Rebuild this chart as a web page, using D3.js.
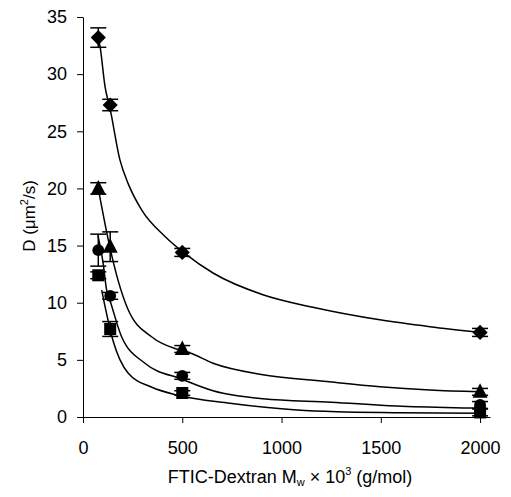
<!DOCTYPE html>
<html>
<head>
	<meta charset="utf-8">
	<title>D vs Dextran Mw</title>
	<script src="https://cdn.jsdelivr.net/npm/d3@7"></script>
	<style>
		body {
			margin: 0;
			background: #fff;
			font-family: Arial, "Liberation Sans", sans-serif;
		}
	</style>
</head>
<body>
	<div id="chart"></div>
	<script>

	// data
	const mw = [77, 137, 500, 2000];

	const diamondD   = [33.2, 27.3, 14.4, 7.4];
	const diamondErr = [0.85, 0.5, 0.35, 0.35];
	const triangleD   = [20.0, 14.9, 5.95, 2.2];
	const triangleErr = [0.5, 1.3, 0.3, 0.3];
	const circleD   = [14.6, 10.6, 3.6, 1.05];
	const circleErr = [1.4, 0.3, 0.3, 0.3];
	const squareD   = [12.4, 7.7, 2.1, 0.4];
	const squareErr = [0.3, 0.65, 0.2, 0.3];

	// fitted curves, points
	const diamondFit = [[77,33.2],[86,32.4],[111,28.9],[136,27.0],[186,22.5],[228,20.4],[296,18.1],[413,15.8],[514,14.3],[655,12.6],[906,10.7],[1158,9.6],[1495,8.5],[1747,7.9],[2000,7.4]];
	const triangleFit = [[77,20.0],[136,14.8],[176,12.0],[227,9.4],[347,7.0],[478,5.9],[539,5.6],[655,4.7],[906,3.7],[1229,3.1],[1495,2.65],[1747,2.36],[2000,2.2]];
	const circleFit = [[75,15.9],[101,13.5],[119,11.1],[136,10.2],[195,7.0],[312,4.7],[500,3.3],[655,2.3],[906,1.6],[1250,1.3],[1580,0.96],[1950,0.78],[2000,0.76]];
	const squareFit = [[94,11.1],[151,6.7],[227,3.85],[347,2.6],[478,1.9],[740,1.2],[1078,0.61],[1279,0.46],[1581,0.38],[2000,0.32]];

	const xTicks = [0, 500, 1000, 1500, 2000];
	const yTicks = [0, 5, 10, 15, 20, 25, 30, 35];

	const width  = 511;
	const height = 497;

	const series = [
		{ name: "diamond",  values: diamondD,  err: diamondErr,  fit: diamondFit },
		{ name: "triangle", values: triangleD, err: triangleErr, fit: triangleFit },
		{ name: "circle",   values: circleD,   err: circleErr,   fit: circleFit },
		{ name: "square",   values: squareD,   err: squareErr,   fit: squareFit },
	];

	const x = d3.scaleLinear().domain([0, 2050]).range([83, 490]);
	const y = d3.scaleLinear().domain([0, 35]).range([417, 17]);

	const svg = d3.select("#chart")
		.append("svg")
		.attr("width", width)
		.attr("height", height)
		.attr("font-family", "Arial, 'Liberation Sans', sans-serif");

	// axes
	svg.append("g")
		.attr("transform", "translate(0,417)")
		.call(d3.axisBottom(x).tickValues(xTicks).tickFormat(d3.format("d"))
			.tickSize(6).tickSizeOuter(0).tickPadding(18))
		.call(g => g.selectAll("text").attr("font-size", 18).attr("fill", "#000"))
		.call(g => g.selectAll("line,path").attr("stroke", "#000"));

	svg.append("g")
		.attr("transform", "translate(83,0)")
		.call(d3.axisLeft(y).tickValues(yTicks).tickSize(6).tickSizeOuter(0).tickPadding(10))
		.call(g => g.selectAll("text").attr("font-size", 18).attr("fill", "#000"))
		.call(g => g.selectAll("line,path").attr("stroke", "#000"));

	// fit lines
	const line = d3.line()
		.x(d => x(d[0]))
		.y(d => y(d[1]))
		.curve(d3.curveMonotoneX);

	svg.append("g")
		.selectAll("path")
		.data(series)
		.join("path")
		.attr("fill", "none")
		.attr("stroke", "#000")
		.attr("stroke-width", 1.5)
		.attr("d", d => line(d.fit));

	// error bars
	const capW = 8;
	series.forEach(s => {
		const g = svg.append("g").attr("stroke", "#000").attr("stroke-width", 1.5);
		s.values.forEach((v, i) => {
			const cx = x(mw[i]);
			const top = y(v + s.err[i]), bot = y(v - s.err[i]);
			g.append("line").attr("x1", cx).attr("x2", cx).attr("y1", top).attr("y2", bot);
			g.append("line").attr("x1", cx - capW).attr("x2", cx + capW).attr("y1", top).attr("y2", top);
			g.append("line").attr("x1", cx - capW).attr("x2", cx + capW).attr("y1", bot).attr("y2", bot);
		});
	});

	// markers
	const triangle = { draw(ctx) { ctx.moveTo(0, -8.5); ctx.lineTo(7.5, 6); ctx.lineTo(-7.5, 6); ctx.closePath(); } };
	const symbols = {
		diamond:  { type: d3.symbolSquare, size: 115, rotate: 45 },
		triangle: { type: triangle,        size: 0,   rotate: 0 },
		circle:   { type: d3.symbolCircle, size: 110, rotate: 0 },
		square:   { type: d3.symbolSquare, size: 145, rotate: 0 },
	};

	series.forEach(s => {
		const sym = symbols[s.name];
		svg.append("g")
			.selectAll("path")
			.data(s.values)
			.join("path")
			.attr("fill", "#000")
			.attr("transform", (d, i) => `translate(${x(mw[i])},${y(d)}) rotate(${sym.rotate})`)
			.attr("d", d3.symbol(sym.type, sym.size));
	});

	// axis titles
	const xt = svg.append("text")
		.attr("x", 290)
		.attr("y", 483)
		.attr("text-anchor", "middle")
		.attr("font-size", 18);
	xt.append("tspan").text("FTIC-Dextran M");
	xt.append("tspan").attr("font-size", 11).attr("dy", 3).text("w");
	xt.append("tspan").attr("dy", -3).text(" \u00d7 10");
	xt.append("tspan").attr("font-size", 11).attr("dy", -8).text("3");
	xt.append("tspan").attr("dy", 8).text(" (g/mol)");

	const yt = svg.append("text")
		.attr("transform", "translate(35,216) rotate(-90)")
		.attr("text-anchor", "middle")
		.attr("font-size", 17);
	yt.append("tspan").text("D (\u03bcm");
	yt.append("tspan").attr("font-size", 11).attr("dy", -7).text("2");
	yt.append("tspan").attr("dy", 7).text("/s)");

	</script>
</body>
</html>
